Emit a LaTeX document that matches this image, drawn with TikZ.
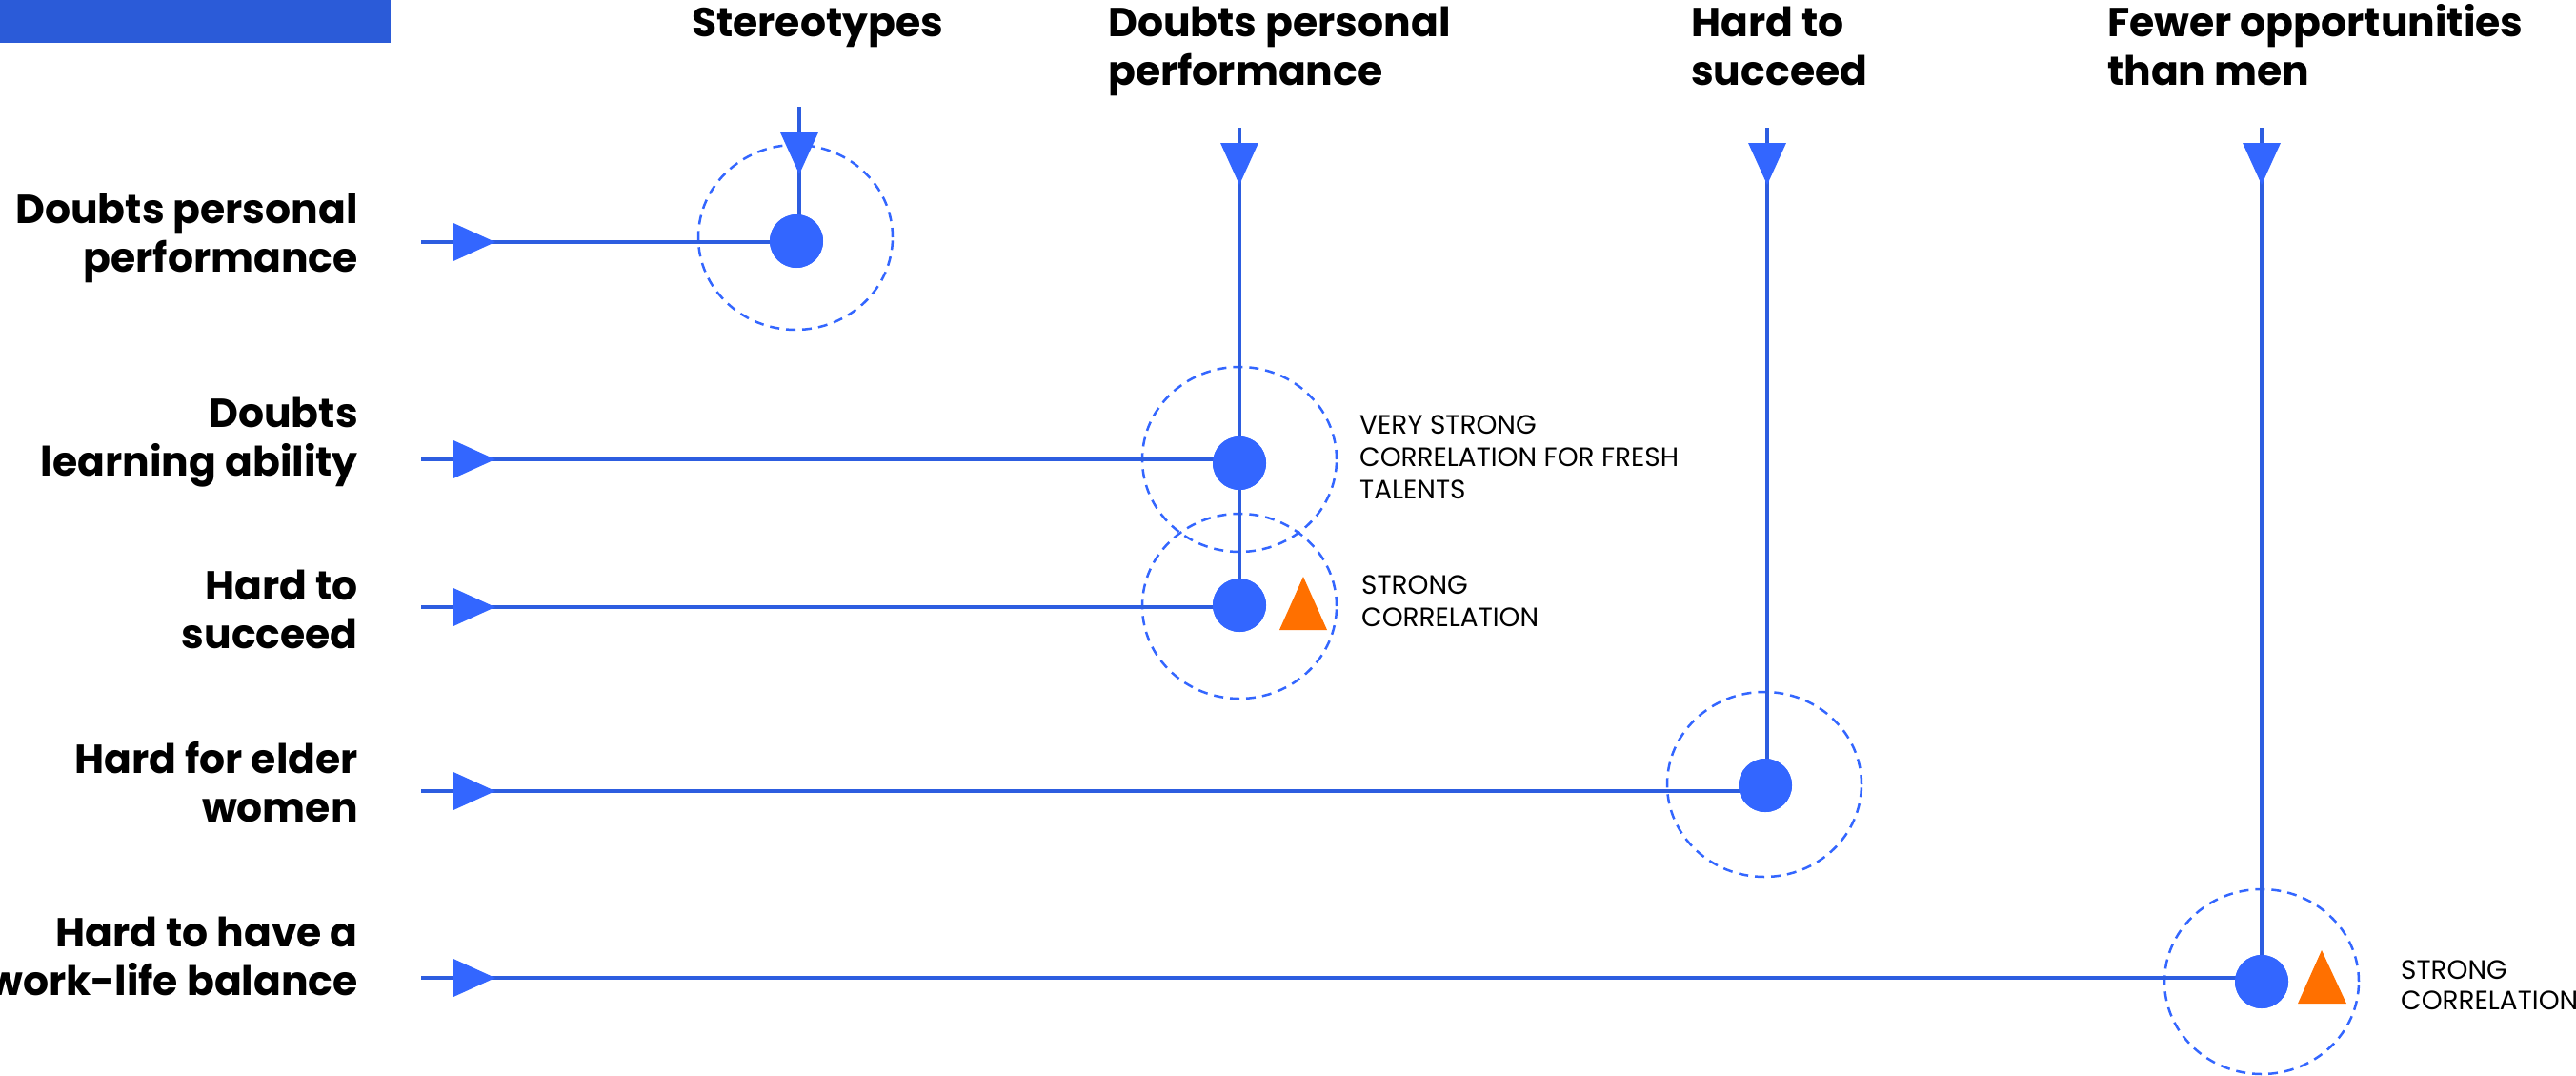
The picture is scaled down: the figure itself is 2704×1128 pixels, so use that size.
\documentclass[tikz,border=0pt]{standalone}
\usepackage{fontspec}
\setmainfont{Poppins}
\usetikzlibrary{arrows.meta,decorations.markings,shapes.geometric}
\definecolor{barblue}{HTML}{2B5BD8}
\definecolor{lineblue}{HTML}{2D5DE0}
\definecolor{dotblue}{HTML}{3366FF}
\definecolor{triorange}{HTML}{FF7000}
\tikzset{
  conn/.style={draw=lineblue, line width=3.5pt},
  midarrow/.style={postaction={decorate}, decoration={markings,
      mark=at position #1 with {\arrow{Triangle[length=44pt,width=39pt,color=dotblue]}}}},
  bigdot/.style={circle, fill=dotblue, minimum size=56pt, inner sep=0pt},
  halo/.style={ellipse, draw=dotblue, dash pattern=on 10pt off 7pt, line width=2.5pt,
      minimum width=204pt, minimum height=194pt, inner sep=0pt},
  hdr/.style={font=\bfseries\fontsize{42.5}{51}\selectfont, inner sep=0pt, anchor=base west},
  rowlab/.style={font=\bfseries\fontsize{42.5}{51}\selectfont, inner sep=0pt, anchor=base east},
  note/.style={font=\fontsize{27.9}{34}\selectfont, inner sep=0pt, anchor=base west},
  notetight/.style={font=\fontsize{27.9}{32}\selectfont, inner sep=0pt, anchor=base west},
}
\begin{document}
\begin{tikzpicture}[x=1pt,y=-1pt]
\useasboundingbox (0,0) rectangle (2704,1128);
\fill[barblue] (0,0) rectangle (410,45);

% dashed halos
\node[halo] (e1) at (835,249) {};
\node[halo] (e2) at (1301,482) {};
\node[halo] (e3) at (1301,636) {};
\node[halo] (e4) at (1852,823) {};
\node[halo] (e5) at (2374,1030) {};

% dots
\node[bigdot] (d1) at (836,253) {};
\node[bigdot] (d2) at (1301,486) {};
\node[bigdot] (d3) at (1301,635) {};
\node[bigdot] (d4) at (1853,824) {};
\node[bigdot] (d5) at (2374,1030) {};

% start points
\coordinate (h1) at (442,254);
\coordinate (h2) at (442,482);
\coordinate (h3) at (442,637);
\coordinate (h4) at (442,830);
\coordinate (h5) at (442,1026);
\coordinate (v1) at (839,112);
\coordinate (v2) at (1301,134);
\coordinate (v3) at (1855,134);
\coordinate (v4) at (2374,134);

% connectors
\draw[conn, midarrow=78pt] (h1) -- (h1 -| d1.center);
\draw[conn, midarrow=78pt] (h2) -- (h2 -| d2.center);
\draw[conn, midarrow=78pt] (h3) -- (h3 -| d3.center);
\draw[conn, midarrow=78pt] (h4) -- (h4 -| d4.center);
\draw[conn, midarrow=78pt] (h5) -- (h5 -| d5.center);
\draw[conn, midarrow=71pt] (v1) -- (v1 |- d1.center);
\draw[conn, midarrow=60pt] (v2) -- (v2 |- d3.center);
\draw[conn, midarrow=60pt] (v3) -- (v3 |- d4.center);
\draw[conn, midarrow=60pt] (v4) -- (d5.center);

% redraw dots on top
\fill[dotblue] (d1) circle[radius=28pt];
\fill[dotblue] (d2) circle[radius=28pt];
\fill[dotblue] (d3) circle[radius=28pt];
\fill[dotblue] (d4) circle[radius=28pt];
\fill[dotblue] (d5) circle[radius=28pt];

% orange triangles
\fill[triorange] (1343,661) -- (1393,661) -- (1368,605) -- cycle;
\fill[triorange] (2412,1053) -- (2463,1053) -- (2437,997) -- cycle;

% column headers
\node[hdr] (t1) at (726,38) {Stereotypes};
\node[hdr] (t2) at (1163,38) {\begin{tabular}[t]{@{}l@{}}Doubts personal\\performance\end{tabular}};
\node[hdr] (t3) at (1775,38) {\begin{tabular}[t]{@{}l@{}}Hard to\\succeed\end{tabular}};
\node[hdr] (t4) at (2212,38) {\begin{tabular}[t]{@{}l@{}}Fewer opportunities\\than men\end{tabular}};

% row labels
\node[rowlab] (l1) at (376,234) {\begin{tabular}[t]{@{}r@{}}Doubts personal\\performance\end{tabular}};
\node[rowlab] (l2) at (376,448) {\begin{tabular}[t]{@{}r@{}}Doubts\\learning ability\end{tabular}};
\node[rowlab] (l3) at (376,629) {\begin{tabular}[t]{@{}r@{}}Hard to\\succeed\end{tabular}};
\node[rowlab] (l4) at (376,811) {\begin{tabular}[t]{@{}r@{}}Hard for elder\\women\end{tabular}};
\node[rowlab] (l5) at (376,993) {\begin{tabular}[t]{@{}r@{}}Hard to have a\\work-life balance\end{tabular}};

% notes
\node[note] (n1) at (1427,455) {\begin{tabular}[t]{@{}l@{}}VERY STRONG\\CORRELATION FOR FRESH\\TALENTS\end{tabular}};
\node[note] (n2) at (1429,623) {\begin{tabular}[t]{@{}l@{}}STRONG\\CORRELATION\end{tabular}};
\node[notetight] (n3) at (2520,1027) {\begin{tabular}[t]{@{}l@{}}STRONG\\CORRELATION\end{tabular}};
\end{tikzpicture}
\end{document}
